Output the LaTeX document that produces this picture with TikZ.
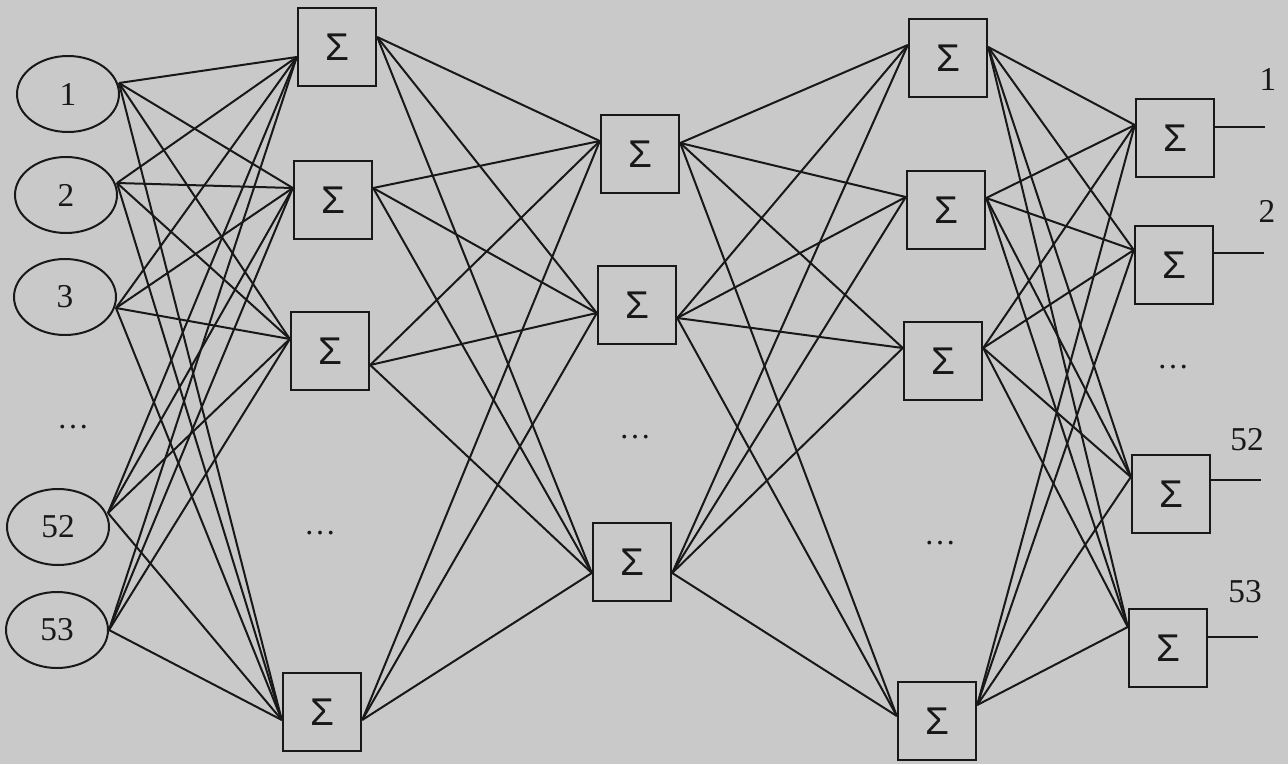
\documentclass[tikz,border=0pt]{standalone}
\usepackage{fontspec}
\setmainfont{Liberation Serif}
\newfontfamily\sigfont{Liberation Sans}
\usetikzlibrary{calc,shapes.geometric}
\definecolor{paper}{RGB}{201,201,201}
\definecolor{ink}{RGB}{24,24,24}
\begin{document}
\begin{tikzpicture}[x=0.75pt,y=-0.75pt,
  neuron/.style={draw=ink,line width=1.8pt,minimum size=58.5pt,inner sep=0pt,text=ink,font=\sigfont\fontsize{29}{30}\selectfont},
  inp/.style={draw=ink,line width=1.5pt,ellipse,minimum width=76.5pt,minimum height=57pt,inner sep=0pt,text=ink,font=\fontsize{25}{26}\selectfont},
  conn/.style={draw=ink,line width=1.5pt},
  lbl/.style={font=\fontsize{25}{26}\selectfont,text=ink,inner sep=0pt},
  dotsnode/.style={font=\fontsize{24}{26}\selectfont,text=ink,inner sep=0pt}]
\fill[paper] (0,0) rectangle (1288,764);
\useasboundingbox (0,0) rectangle (1288,764);
% inputs
\node[inp] (e1) at (68,94) {1};
\node[inp] (e2) at (66,195) {2};
\node[inp] (e3) at (65,297) {3};
\node[dotsnode] (edots) at (73,427) {…};
\node[inp] (e52) at (58,527) {52};
\node[inp] (e53) at (57,630) {53};
% layer 1
\node[neuron] (a1) at (337,47) {Σ};
\node[neuron] (a2) at (333,200) {Σ};
\node[neuron] (a3) at (330,351) {Σ};
\node[dotsnode] (adots) at (320,533) {…};
\node[neuron] (a4) at (322,712) {Σ};
% layer 2
\node[neuron] (b1) at (640,154) {Σ};
\node[neuron] (b2) at (637,305) {Σ};
\node[dotsnode] (bdots) at (635,437) {…};
\node[neuron] (b4) at (632,562) {Σ};
% layer 3
\node[neuron] (c1) at (948,58) {Σ};
\node[neuron] (c2) at (946,210) {Σ};
\node[neuron] (c3) at (943,361) {Σ};
\node[dotsnode] (cdots) at (940,543) {…};
\node[neuron] (c4) at (937,721) {Σ};
% layer 4
\node[neuron] (d1) at (1175,138) {Σ};
\node[neuron] (d2) at (1174,265) {Σ};
\node[dotsnode] (ddots) at (1173,367) {…};
\node[neuron] (d3) at (1171,494) {Σ};
\node[neuron] (d4) at (1168,648) {Σ};
% attachment points
\coordinate (e1-out) at ($(e1.east)+(-1,-11)$);
\coordinate (e2-out) at ($(e2.east)+(-1,-12)$);
\coordinate (e3-out) at ($(e3.east)+(-1,11)$);
\coordinate (e52-out) at ($(e52.east)+(-2,-14)$);
\coordinate (e53-out) at ($(e53.east)+(0,0)$);
\foreach \n/\i/\o in {a1/10/-10,a2/-12/-12,a3/-12/14,a4/8/8,
  b1/-13/-11,b2/8/13,b4/11/11,
  c1/-13/-11,c2/-13/-12,c3/-13/-13,c4/-5/-16,
  d1/-13/-11,d2/-15/-12,d3/-17/-14,d4/-21/-11}{
  \coordinate (\n-in) at ($(\n.west)+(0,\i)$);
  \coordinate (\n-out) at ($(\n.east)+(0,\o)$);
}
% connections
\foreach \s in {e1,e2,e3,e52,e53}
  \foreach \t in {a1,a2,a3,a4}
    \draw[conn] (\s-out) -- (\t-in);
\foreach \s in {a1,a2,a3,a4}
  \foreach \t in {b1,b2,b4}
    \draw[conn] (\s-out) -- (\t-in);
\foreach \s in {b1,b2,b4}
  \foreach \t in {c1,c2,c3,c4}
    \draw[conn] (\s-out) -- (\t-in);
\foreach \s in {c1,c2,c3,c4}
  \foreach \t in {d1,d2,d3,d4}
    \draw[conn] (\s-out) -- (\t-in);
% outputs
\foreach \n in {d1,d2,d3,d4}{
  \coordinate (\n-end) at ($(\n-out)+(50,0)$);
  \draw[conn] (\n-out) -- (\n-end);
}
\node[lbl] (o1) at (1268,79) {1};
\node[lbl] (o2) at (1267,211) {2};
\node[lbl] (o52) at (1247,440) {52};
\node[lbl] (o53) at (1245,592) {53};
\end{tikzpicture}
\end{document}
